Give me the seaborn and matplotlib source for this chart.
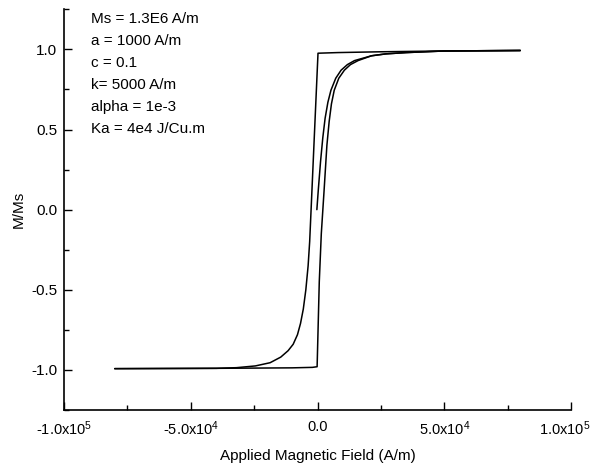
import numpy as np
import pandas as pd
import matplotlib
matplotlib.use("Agg")
import matplotlib.pyplot as plt
import matplotlib.transforms as mtransforms
from matplotlib.ticker import FixedLocator, FixedFormatter
import seaborn as sns

# ---- data ----
desc_H = [80000, 50000, 25000, 8000, 200, -1330, -2220, -3090, -3700, -4600,
          -5600, -6700, -7900, -9600, -11600, -14500, -18700, -24500, -32000,
          -40000, -80000]
desc_M = [0.993, 0.99, 0.985, 0.98, 0.976, 0.43, 0.11, -0.20, -0.35, -0.50,
          -0.62, -0.71, -0.78, -0.84, -0.88, -0.92, -0.955, -0.975, -0.986,
          -0.99, -0.992]

asc_H = [-80000, -40000, -10000, -2000, -150, 700, 1500, 2600, 3700, 4600,
         5500, 6600, 8400, 10600, 13000, 16000, 21300, 27000, 35000, 50000,
         80000]
asc_M = [-0.992, -0.99, -0.987, -0.984, -0.98, -0.45, -0.15, 0.12, 0.40, 0.55,
         0.66, 0.745, 0.82, 0.87, 0.905, 0.93, 0.96, 0.972, 0.98, 0.99, 0.993]

init_H = [-250, 300, 1200, 2100, 3000, 4100, 5300, 7200, 9300, 11800, 14600,
          21300, 27000, 35000, 50000, 80000]
init_M = [0.0, 0.12, 0.30, 0.45, 0.57, 0.67, 0.745, 0.82, 0.87, 0.905, 0.93,
          0.96, 0.972, 0.98, 0.99, 0.993]

param_lines = ["Ms = 1.3E6 A/m", "a = 1000 A/m", "c = 0.1", "k= 5000 A/m",
               "alpha = 1e-3", "Ka = 4e4 J/Cu.m"]

x_ticks = [-1e5, -5e4, 0, 5e4, 1e5]
x_tick_labels = [r"-1.0x10$^{5}$", r"-5.0x10$^{4}$", "0.0", r"5.0x10$^{4}$", r"1.0x10$^{5}$"]
y_ticks = [-1.0, -0.5, 0.0, 0.5, 1.0]
y_tick_labels = ["-1.0", "-0.5", "0.0", "0.5", "1.0"]

# ---- styling ----
sns.set_theme(style="ticks")
plt.rcParams["font.family"] = ["Liberation Sans", "DejaVu Sans"]
plt.rcParams["mathtext.fontset"] = "custom"
plt.rcParams["mathtext.rm"] = "Liberation Sans"
plt.rcParams["mathtext.it"] = "Liberation Sans"
plt.rcParams["mathtext.bf"] = "Liberation Sans"

fig = plt.figure(figsize=(5.92, 4.65), dpi=100)
ax = fig.add_axes([64 / 592, 1 - 410 / 465, 507 / 592, 400.7 / 465])

df = pd.concat([
    pd.DataFrame({"H": desc_H, "M": desc_M, "branch": "descending"}),
    pd.DataFrame({"H": asc_H, "M": asc_M, "branch": "ascending"}),
    pd.DataFrame({"H": init_H, "M": init_M, "branch": "initial"}),
])
for name, sub in df.groupby("branch", sort=False):
    sns.lineplot(data=sub, x="H", y="M", sort=False, estimator=None,
                 color="black", lw=1.1, ax=ax)

ax.set_xlim(-1e5, 1e5)
ax.set_ylim(-1.25, 1.25)
ax.xaxis.set_major_locator(FixedLocator(x_ticks))
ax.xaxis.set_major_formatter(FixedFormatter(x_tick_labels))
ax.xaxis.set_minor_locator(FixedLocator([-7.5e4, -2.5e4, 2.5e4, 7.5e4]))
ax.yaxis.set_major_locator(FixedLocator(y_ticks))
ax.yaxis.set_major_formatter(FixedFormatter(y_tick_labels))
ax.yaxis.set_minor_locator(FixedLocator([-1.25, -0.75, -0.25, 0.25, 0.75, 1.25]))

ax.tick_params(which="major", direction="in", length=6, width=1.0,
               color="black", labelcolor="black", pad=5)
ax.tick_params(which="minor", direction="in", length=3.6, width=1.0, color="black")
ax.tick_params(axis="y", which="major", labelsize=11)
ax.tick_params(axis="x", which="major", labelsize=10.5, pad=7)

for s in ["top", "right"]:
    ax.spines[s].set_visible(False)
for s in ["left", "bottom"]:
    ax.spines[s].set_linewidth(1.2)
    ax.spines[s].set_color("black")

ax.set_xlabel("Applied Magnetic Field (A/m)", fontsize=11, color="black", labelpad=8)
ax.set_ylabel("M/Ms", fontsize=11, color="black", labelpad=4)

for i, t in enumerate(param_lines):
    ypx = 19 + 22 * i
    ax.text((91 - 64) / 507, 1 - (ypx - 9.3) / 400.7, t, transform=ax.transAxes,
            ha="left", va="center", fontsize=11, color="black")

# nudge the last x tick label so it stays inside the canvas
fig.canvas.draw()
last = ax.xaxis.get_majorticklabels()[-1]
last.set_transform(last.get_transform() +
                   mtransforms.ScaledTranslation(-6 / 100, 0, fig.dpi_scale_trans))

fig.savefig("out.png", dpi=100, facecolor="white")
